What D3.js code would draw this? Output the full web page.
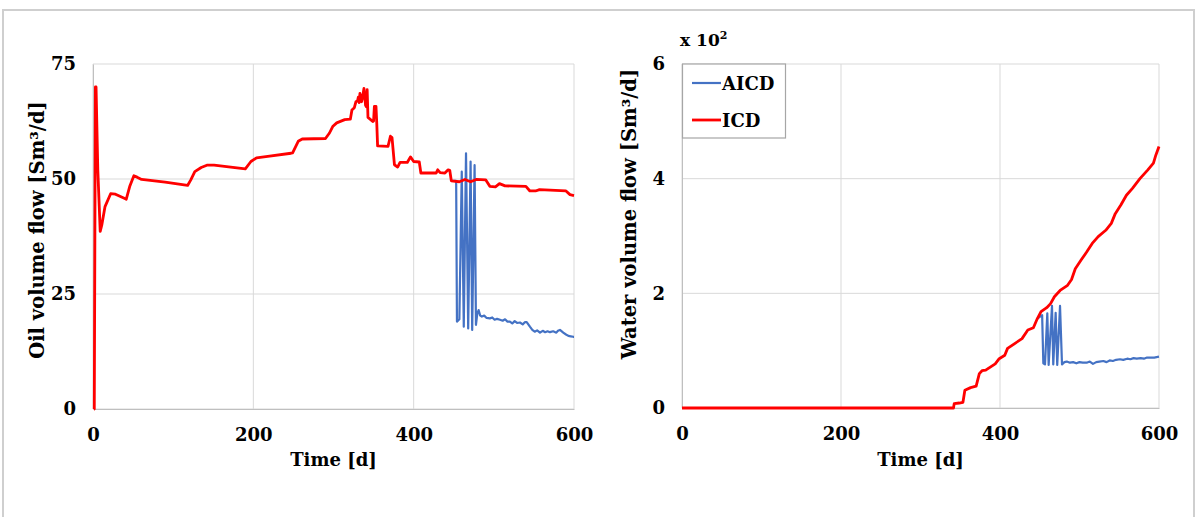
<!DOCTYPE html>
<html><head><meta charset="utf-8">
<script src="https://cdn.jsdelivr.net/npm/d3@7"></script>
<style>
html,body{margin:0;padding:0;background:#fff;}
svg{display:block;}
text{font-family:"DejaVu Serif",serif;font-weight:bold;fill:#000;}
</style></head>
<body>
<svg id="chart" width="1196" height="517"></svg>
<script>
// ---------- data ----------
const xTicks = [0, 200, 400, 600];
const oilTicks = [0, 25, 50, 75];
const waterTicks = [0, 2, 4, 6];
const seriesNames = ["AICD", "ICD"];
const seriesColors = ["#4472c4", "#ff0000"];

// ICD oil volume flow [Sm3/d] : [time d, value]
const icdOil = [[1.2,0],[1.6,0],[3,70],[3.8,70],[6,52],[9,38.6],[11,40],[15,44],[22,46.8],[28,46.7],[39,45.8],[41.5,45.6],[46,48.5],[51,50.7],[55,50.4],[60.6,49.9],[90,49.3],[118,48.6],[122,49.8],[127,51.6],[135,52.5],[142,53.0],[151,53],[190,52.2],[197,53.8],[204,54.6],[218,54.9],[247,55.6],[249,55.7],[256,58.2],[261,58.7],[290,58.8],[295,60],[299,61.4],[304,62.2],[314,62.9],[321,63.0],[323,65.0],[326,65.5],[328,66.8],[330,67],[331,67.8],[332,66.6],[333,68.6],[335,66.8],[336,67.5],[338,69.7],[340,66],[341,65.7],[342,69.4],[343,63.4],[349,62.5],[350,62.6],[351,65.8],[353,65.8],[354,62],[355,57.2],[368,57.1],[371,59.3],[373,59],[376,53.1],[380,52.6],[383,53.6],[392,53.6],[396,54.8],[400,53.8],[407,53.7],[409,51.3],[428,51.3],[430,52.0],[433,51.4],[439,51.3],[443,52],[445,51.9],[447,49.6],[457,49.4],[464,49.9],[471,49.4],[478,49.9],[490,49.8],[495,48.4],[502,48.3],[507,49.0],[514,48.5],[540,48.4],[545,47.4],[552,47.4],[557,47.7],[590,47.4],[595,46.6],[600,46.4]];

// AICD oil volume flow (coincides with ICD before ~453 d)
const aicdOil = [[447,49.6],[453,49.6],[454,19.0],[457,19.5],[460,51.6],[462.5,17.9],[465.3,55.6],[468,17.5],[471,53.8],[473,17.2],[476,53.0],[477.7,18.3],[479.4,20.8],[481,21.5],[483,20.3],[485,20.1],[488,20.3],[491,19.8],[495,19.7],[498,19.9],[501,19.4],[504,19.6],[507.7,19.4],[511,19.2],[514,19.5],[517,19.0],[520,19.0],[523,18.6],[526,19.1],[529,18.7],[532.6,18.8],[536,18.4],[539,18.9],[541,18.9],[545,17.9],[548,17.2],[551,16.8],[554,17.1],[557.6,16.6],[561,17.0],[564,16.7],[567,16.9],[570,16.7],[574,16.9],[578,16.6],[580,17.0],[582.5,17.2],[586.6,16.6],[590,16.2],[593,15.9],[596,15.8],[599,15.7],[600,15.7]];

// ICD water volume flow [x100 Sm3/d]
const icdWater = [[0,0],[341.5,0],[342.4,0.076],[348.7,0.087],[353.4,0.1],[355.8,0.31],[363,0.355],[370,0.38],[374,0.6],[377.4,0.65],[382,0.66],[394,0.77],[399,0.86],[406,0.92],[409.5,1.04],[418,1.12],[427.7,1.21],[435,1.36],[442,1.40],[447,1.56],[451.6,1.68],[458.8,1.75],[463.6,1.82],[468.4,1.94],[475.6,2.05],[485,2.14],[490,2.24],[494.7,2.43],[502,2.58],[509,2.72],[516,2.87],[523.5,2.99],[533,3.10],[540,3.22],[545,3.39],[552,3.54],[559,3.71],[566.6,3.83],[576,4.0],[585.7,4.15],[593,4.27],[596,4.41],[600,4.56]];

// AICD water volume flow [x100 Sm3/d]
const aicdWater = [[447,1.56],[453,1.62],[454.5,0.78],[456.6,0.76],[459.5,1.65],[461.2,0.75],[465.4,1.78],[467,0.76],[470,1.66],[472,0.75],[475.5,1.78],[478,0.76],[481,0.80],[484,0.81],[488,0.79],[492,0.80],[496,0.78],[500,0.80],[504,0.79],[509,0.79],[513,0.81],[517,0.77],[521,0.80],[525,0.81],[530,0.82],[534,0.80],[538,0.83],[542,0.82],[546,0.84],[551,0.85],[555,0.84],[560,0.86],[564,0.85],[568,0.87],[572,0.86],[577,0.87],[581,0.86],[585,0.88],[589,0.88],[594,0.88],[600,0.895]];

// ---------- drawing ----------
const svg = d3.select("#chart");

// outer frame
svg.append("rect").attr("x",3).attr("y",10).attr("width",1191).attr("height",520)
  .attr("fill","none").attr("stroke","#cfcfcf").attr("stroke-width",2);

function panel(cfg){
  const x = d3.scaleLinear().domain([0,600]).range([cfg.left,cfg.right]);
  const y = d3.scaleLinear().domain([0,cfg.ymax]).range([cfg.bottom,cfg.top]);
  const g = svg.append("g");

  // gridlines
  g.append("g").selectAll("line").data(cfg.yTicks).join("line")
    .attr("x1",cfg.left).attr("x2",cfg.right)
    .attr("y1",d=>y(d)).attr("y2",d=>y(d))
    .attr("stroke","#d9d9d9").attr("stroke-width",1);
  g.append("g").selectAll("line").data(xTicks).join("line")
    .attr("y1",cfg.top).attr("y2",cfg.bottom)
    .attr("x1",d=>x(d)).attr("x2",d=>x(d))
    .attr("stroke","#d9d9d9").attr("stroke-width",1);

  // axes
  const ax = g.append("g").attr("transform",`translate(0,${cfg.bottom})`)
    .call(d3.axisBottom(x).tickValues(xTicks).tickSize(0).tickPadding(19).tickFormat(d3.format("d")));
  ax.select(".domain").attr("stroke","#bfbfbf");
  ax.selectAll("text").attr("font-size",18).attr("font-family","DejaVu Serif").attr("font-weight","bold");
  const ay = g.append("g").attr("transform",`translate(${cfg.left},0)`)
    .call(d3.axisLeft(y).tickValues(cfg.yTicks).tickSize(0).tickPadding(17).tickFormat(d3.format("d")));
  ay.select(".domain").attr("stroke","#bfbfbf");
  ay.selectAll("text").attr("font-size",18).attr("font-family","DejaVu Serif").attr("font-weight","bold");

  const line = d3.line().x(d=>x(d[0])).y(d=>y(d[1]));
  g.append("path").datum(cfg.aicd).attr("d",line).attr("fill","none")
    .attr("stroke",seriesColors[0]).attr("stroke-width",2.2).attr("stroke-linejoin","round");
  g.append("path").datum(cfg.icd).attr("d",line).attr("fill","none")
    .attr("stroke",seriesColors[1]).attr("stroke-width",2.8).attr("stroke-linejoin","round");

  // titles
  g.append("text").attr("x",(cfg.left+cfg.right)/2).attr("y",466)
    .attr("text-anchor","middle").attr("font-size",18).text("Time [d]");
  g.append("text").attr("transform",`translate(${cfg.titleX},${cfg.titleY}) rotate(-90)`)
    .attr("text-anchor","middle").attr("font-size",19.5).text(cfg.ytitle);
  return {x,y,g};
}

panel({left:93,right:574,top:64,bottom:409,ymax:75,yTicks:oilTicks,
  aicd:aicdOil,icd:icdOil,ytitle:"Oil volume flow [Sm³/d]",titleX:44,titleY:230});
panel({left:682,right:1159,top:64,bottom:408,ymax:6,yTicks:waterTicks,
  aicd:aicdWater,icd:icdWater,ytitle:"Water volume flow [Sm³/d]",titleX:636,titleY:214});

// multiplier label
const mt = svg.append("text").attr("x",680).attr("y",46).attr("font-size",17);
mt.append("tspan").text("x 10");
mt.append("tspan").attr("font-size",11).attr("dy",-7).text("2");

// legend
const lg = svg.append("g");
lg.append("rect").attr("x",682.5).attr("y",64).attr("width",103).attr("height",74)
  .attr("fill","#fff").attr("stroke","#a6a6a6").attr("stroke-width",1.2);
seriesNames.forEach((n,i)=>{
  const yy = 83 + i*37;
  lg.append("line").attr("x1",692).attr("x2",721).attr("y1",yy).attr("y2",yy)
    .attr("stroke",seriesColors[i]).attr("stroke-width",i===0?2.2:2.8);
  lg.append("text").attr("x",722).attr("y",yy+6.5).attr("font-size",18).text(n);
});
</script>
</body></html>
